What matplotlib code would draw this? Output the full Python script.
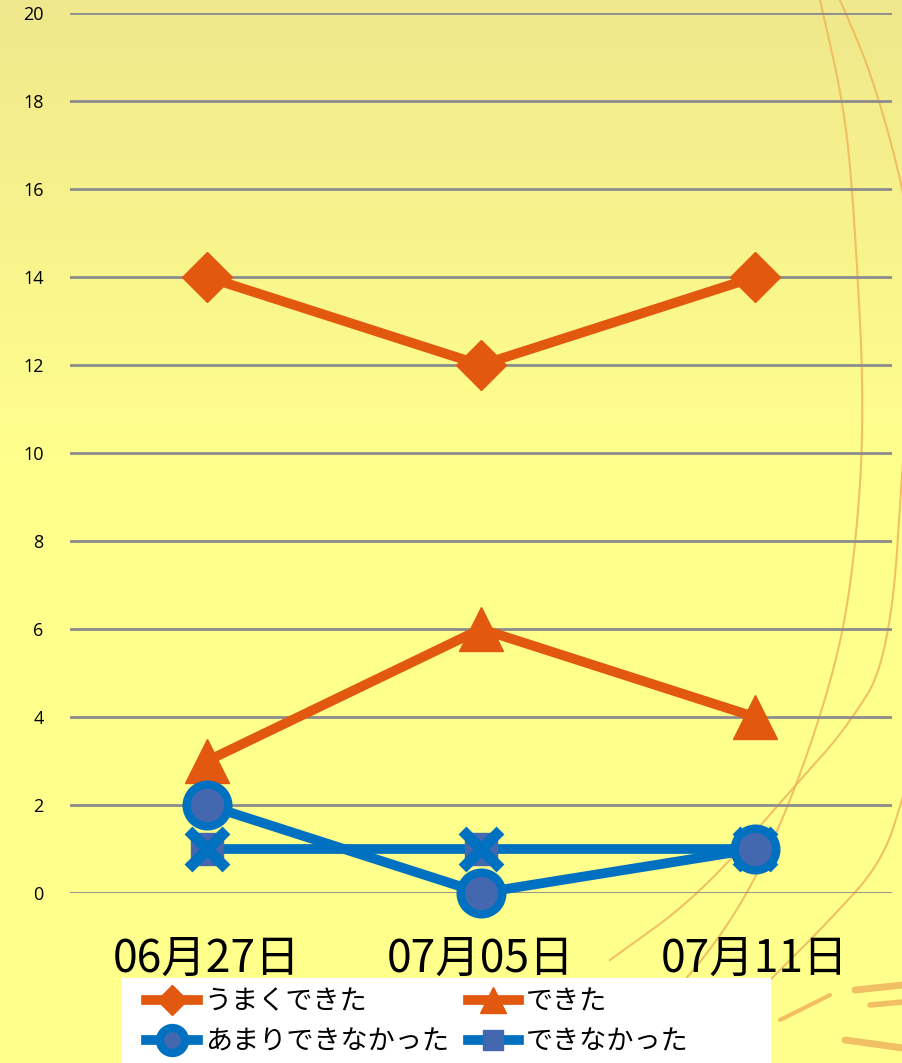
import numpy as np
import matplotlib
matplotlib.use("Agg")
import matplotlib.pyplot as plt
from matplotlib.patches import Rectangle

plt.rcParams['font.family'] = ['Noto Sans CJK JP', 'DejaVu Sans']

dates = ["06月27日", "07月05日", "07月11日"]
umaku = [14, 12, 14]
dekita = [3, 6, 4]
amari = [2, 0, 1]
dekinakatta = [1, 1, 1]
yticks = [0, 2, 4, 6, 8, 10, 12, 14, 16, 18, 20]

orange = "#E2580F"
blue = "#0070C0"
fill_blue = "#4468B0"

W, H = 903, 1063
fig = plt.figure(figsize=(W / 100, H / 100), dpi=100)


def chaikin(pts, n=4):
    pts = np.asarray(pts, dtype=float)
    for _ in range(n):
        q = 0.75 * pts[:-1] + 0.25 * pts[1:]
        r = 0.25 * pts[:-1] + 0.75 * pts[1:]
        mid = np.empty((2 * len(q), 2))
        mid[0::2] = q
        mid[1::2] = r
        pts = np.vstack([pts[:1], mid, pts[-1:]])
    return pts


# background: yellow, darker near the top
bg = fig.add_axes([0, 0, 1, 1], zorder=-10)
grad = np.linspace(0, 1, 256).reshape(-1, 1)
grad = np.clip(grad * 2.3, 0, 1)
top_c = np.array([0.94, 0.91, 0.55])
bot_c = np.array([1.0, 1.0, 0.55])
img = top_c[None, None, :] * (1 - grad[:, :, None]) + bot_c[None, None, :] * grad[:, :, None]
bg.imshow(img, aspect='auto', extent=[0, W, H, 0])
bg.set_xlim(0, W)
bg.set_ylim(H, 0)

# decorative thin curves on the right side (background pixels)
curves = [
    [(820, 0), (845, 110), (855, 224), (865, 420), (853, 576), (833, 678), (787, 813), (733, 922), (660, 1010)],
    [(840, 0), (870, 70), (897, 163), (910, 230)],
    [(905, 430), (890, 658), (845, 730), (800, 780), (700, 895), (610, 960)],
    [(905, 790), (883, 861), (830, 920), (767, 983), (720, 1030)],
]
for pts in curves:
    c = chaikin(pts)
    bg.plot(c[:, 0], c[:, 1], color="#EFB75A", lw=1.5, alpha=0.85)
for (xa, ya, xb, yb, lw) in [(855, 990, 903, 985, 5), (870, 1005, 903, 1002, 4),
                             (845, 1040, 903, 1048, 5), (780, 1020, 830, 995, 3)]:
    bg.plot([xa, xb], [ya, yb], color="#F2C064", lw=lw, solid_capstyle='round')
bg.axis('off')

ax = fig.add_axes([70 / W, (H - 893) / H, (892 - 70) / W, (893 - 13) / H])
ax.patch.set_alpha(0)
x = np.arange(len(dates))

l1, = ax.plot(x, umaku, color=orange, lw=7, marker='D', ms=25, mec=orange, mfc=orange,
              label="うまくできた", zorder=3, clip_on=False)
l2, = ax.plot(x, dekita, color=orange, lw=7, marker='^', ms=32, mec=orange, mfc=orange,
              label="できた", zorder=3, clip_on=False)
l3, = ax.plot(x, amari, color=blue, lw=7, marker='o', ms=30, mec=blue, mfc=fill_blue, mew=6,
              label="あまりできなかった", zorder=4, clip_on=False)
l4, = ax.plot(x, dekinakatta, color=blue, lw=7, marker='s', ms=23, mec=fill_blue, mfc=fill_blue,
              label="できなかった", zorder=3, clip_on=False)
ax.plot(x, dekinakatta, color=blue, lw=0, marker='x', ms=28, mew=8, mec=blue, zorder=3,
        clip_on=False)

ax.set_xlim(-0.5, 2.5)
ax.set_ylim(0, 20)
ax.set_yticks(yticks)
ax.set_yticklabels([str(v) for v in yticks], family=['Open Sans', 'DejaVu Sans'], fontsize=13)
ax.set_xticks(x)
ax.set_xticklabels(dates, fontsize=32)
ax.tick_params(axis='y', length=0, pad=19)
ax.tick_params(axis='x', length=0, pad=31)
ax.grid(axis='y', color="#8C8C8C", lw=2)
ax.set_axisbelow(True)
for s in ax.spines.values():
    s.set_visible(False)

# legend fills row by row in the reference
handles = [l1, l3, l2, l4]
labels = [h.get_label() for h in handles]
fig.patches.append(Rectangle((122 / W, 0), (771 - 122) / W, (H - 978) / H,
                             transform=fig.transFigure, facecolor='white',
                             edgecolor='none', zorder=5))
leg = fig.legend(handles, labels, ncol=2, loc='upper left',
                 bbox_to_anchor=(122 / W, 1 - 964 / H), frameon=False,
                 fontsize=19.5, handlelength=1.9, columnspacing=0.7,
                 handletextpad=0.25, labelspacing=0.5, markerscale=0.6)
leg.set_zorder(6)

fig.savefig("out.png", dpi=100)
